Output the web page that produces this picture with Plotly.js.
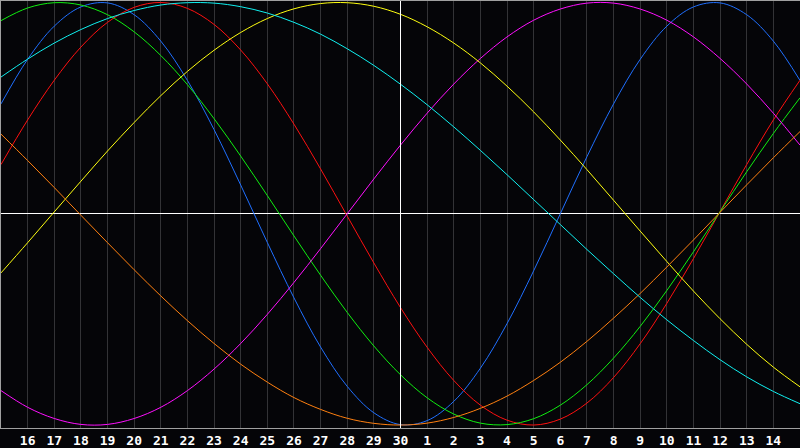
<!DOCTYPE html>
<html>
<head>
<meta charset="utf-8">
<script src="https://cdn.plot.ly/plotly-3.0.1.min.js"></script>
<style>
html,body{margin:0;padding:0;background:#050508;}
#chart{width:800px;height:448px;}
</style>
</head>
<body>
<div id="chart"></div>
<script>
// Day labels for each plotted point (15th .. 30th, then 1st .. 15th)
var days = [15,16,17,18,19,20,21,22,23,24,25,26,27,28,29,30,1,2,3,4,5,6,7,8,9,10,11,12,13,14,15];

// Cycle values, one per day (-1 .. 1)
var physical = [0.520,0.731,0.888,0.979,0.998,0.942,0.817,0.631,0.398,0.136,-0.136,-0.398,-0.631,-0.817,-0.942,-0.998,-0.979,-0.888,-0.731,-0.520,-0.270,0.000,0.270,0.520,0.731,0.888,0.979,0.998,0.942,0.817,0.631];
var emotional = [0.233,0.444,0.632,0.789,0.906,0.977,1.000,0.972,0.896,0.775,0.615,0.424,0.212,-0.011,-0.233,-0.444,-0.632,-0.789,-0.906,-0.977,-1.000,-0.972,-0.896,-0.775,-0.615,-0.424,-0.212,0.011,0.233,0.444,0.632];
var intellectual = [0.914,0.974,0.999,0.988,0.942,0.861,0.749,0.611,0.450,0.273,0.086,-0.105,-0.291,-0.467,-0.626,-0.762,-0.871,-0.948,-0.991,-0.998,-0.970,-0.906,-0.809,-0.683,-0.533,-0.363,-0.180,0.010,0.199,0.380,0.549];
var intuitive = [-0.837,-0.916,-0.969,-0.997,-0.997,-0.969,-0.916,-0.837,-0.735,-0.614,-0.476,-0.325,-0.165,0.000,0.165,0.325,0.476,0.614,0.735,0.837,0.916,0.969,0.997,0.997,0.969,0.916,0.837,0.735,0.614,0.476,0.325];
var aesthetic = [-0.280,-0.137,0.009,0.154,0.297,0.432,0.559,0.674,0.774,0.858,0.924,0.970,0.995,0.999,0.982,0.944,0.885,0.808,0.714,0.604,0.482,0.349,0.209,0.064,-0.082,-0.226,-0.366,-0.497,-0.618,-0.726,-0.819];
var awareness = [0.377,0.252,0.124,-0.007,-0.137,-0.265,-0.389,-0.506,-0.614,-0.712,-0.797,-0.870,-0.926,-0.968,-0.992,-1.000,-0.991,-0.964,-0.921,-0.863,-0.789,-0.703,-0.604,-0.494,-0.377,-0.252,-0.124,0.007,0.137,0.265,0.389];
var spiritual = [0.647,0.732,0.808,0.872,0.924,0.962,0.988,0.999,0.997,0.980,0.950,0.906,0.850,0.781,0.702,0.613,0.516,0.411,0.300,0.185,0.067,-0.051,-0.169,-0.284,-0.396,-0.502,-0.600,-0.691,-0.772,-0.841,-0.899];

var seriesNames = ['Physical','Emotional','Intellectual','Intuitive','Aesthetic','Awareness','Spiritual'];
var seriesValues = [physical, emotional, intellectual, intuitive, aesthetic, awareness, spiritual];
var seriesColors = ['#1f6fff','#ff1010','#10ee10','#ff10ff','#ffff10','#ff8010','#10f0f0'];

var xIdx = days.map(function(d,i){return i;});
var tickIdx = xIdx.slice(1, days.length-1);
var tickTxt = tickIdx.map(function(i){return String(days[i]);});
var todayIdx = days.indexOf(30);

var traces = seriesValues.map(function(vals, k){
  return {
    x: xIdx, y: vals, type: 'scatter', mode: 'lines', name: seriesNames[k],
    line: {color: seriesColors[k], width: 1, shape: 'spline', smoothing: 1},
    hoverinfo: 'skip'
  };
});

var layout = {
  width: 800, height: 448,
  margin: {l: 1, r: 0, t: 1, b: 20, pad: 0},
  paper_bgcolor: '#050508',
  plot_bgcolor: '#050508',
  showlegend: false,
  xaxis: {
    range: [0, days.length-1], fixedrange: true,
    tickmode: 'array', tickvals: tickIdx, ticktext: tickTxt,
    showgrid: true, gridcolor: '#333336', gridwidth: 1,
    zeroline: false, showline: true, linecolor: '#a0a0a0', linewidth: 1, mirror: true,
    ticks: '', ticklabelstandoff: 0,
    tickfont: {family: 'DejaVu Sans Mono, monospace', size: 13, color: '#ffffff', weight: 'bold'}
  },
  yaxis: {
    range: [-1.014, 1.007], fixedrange: true,
    showgrid: false, showticklabels: false, ticks: '',
    zeroline: true, zerolinecolor: '#ffffff', zerolinewidth: 1,
    showline: true, linecolor: '#a0a0a0', linewidth: 1
  },
  shapes: [{
    type: 'line', xref: 'x', yref: 'paper', x0: todayIdx, x1: todayIdx, y0: 0, y1: 1,
    line: {color: '#ffffff', width: 1}, layer: 'above'
  }]
};

Plotly.newPlot('chart', traces, layout, {staticPlot: true, displayModeBar: false});
</script>
</body>
</html>
